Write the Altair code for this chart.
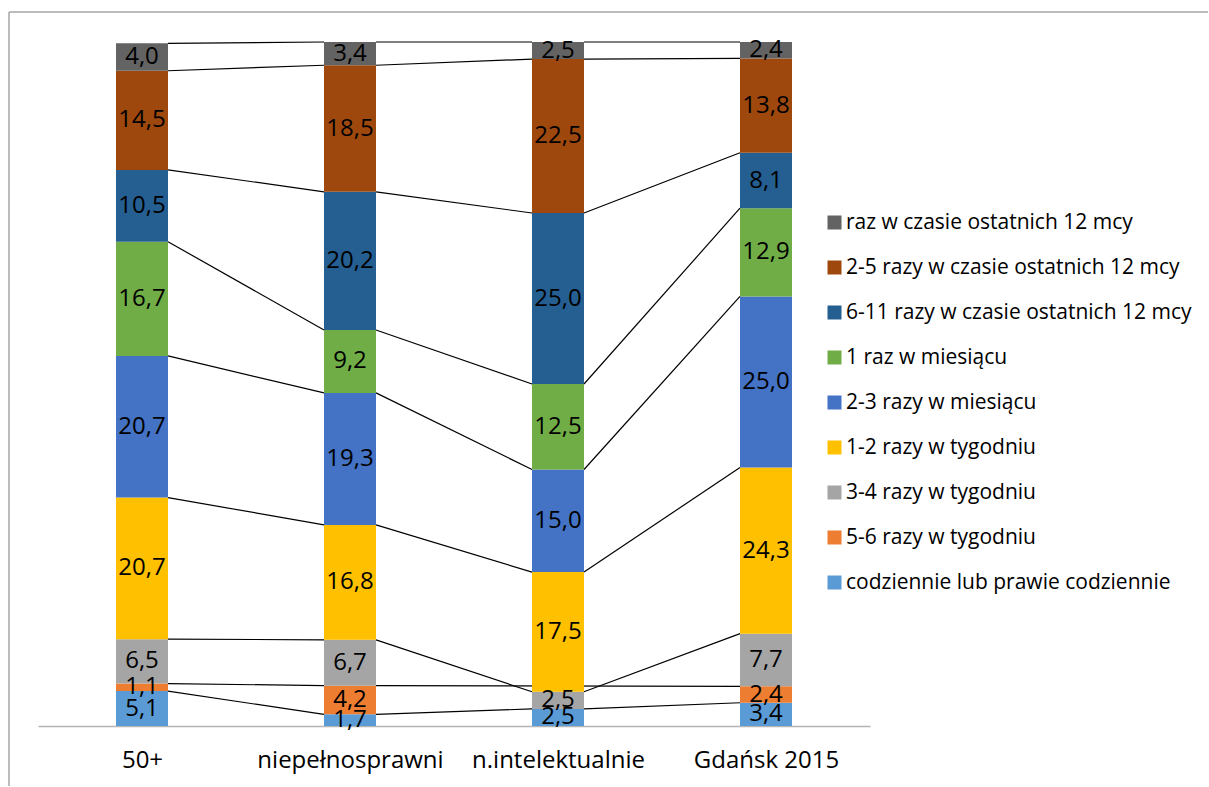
import json
import altair as alt
import pandas as pd

# Groups shown on the x axis
categories = ["50+", "niepełnosprawni", "n.intelektualnie", "Gdańsk 2015"]

# Answer categories, listed from the bottom of each stack to the top
series = [
    "codziennie lub prawie codziennie",
    "5-6 razy w tygodniu",
    "3-4 razy w tygodniu",
    "1-2 razy w tygodniu",
    "2-3 razy w miesiącu",
    "1 raz w miesiącu",
    "6-11 razy w czasie ostatnich 12 mcy",
    "2-5 razy w czasie ostatnich 12 mcy",
    "raz w czasie ostatnich 12 mcy",
]
colors = ["#5B9BD5", "#ED7D31", "#A5A5A5", "#FFC000", "#4472C4",
          "#70AD47", "#255E91", "#9E480E", "#636363"]

# Percentages per group (None = no answer recorded)
codziennie = [5.1, 1.7, 2.5, 3.4]
tyg_5_6 = [1.1, 4.2, None, 2.4]
tyg_3_4 = [6.5, 6.7, 2.5, 7.7]
tyg_1_2 = [20.7, 16.8, 17.5, 24.3]
mies_2_3 = [20.7, 19.3, 15.0, 25.0]
mies_1 = [16.7, 9.2, 12.5, 12.9]
rok_6_11 = [10.5, 20.2, 25.0, 8.1]
rok_2_5 = [14.5, 18.5, 22.5, 13.8]
rok_1 = [4.0, 3.4, 2.5, 2.4]

values = [codziennie, tyg_5_6, tyg_3_4, tyg_1_2, mies_2_3,
          mies_1, rok_6_11, rok_2_5, rok_1]

BAR_HALF = 0.125  # half bar width in category units

# Stack segments
seg_rows = []
tops = {s: [] for s in series}
for i, cat in enumerate(categories):
    cum = 0.0
    for s, vals in zip(series, values):
        v = vals[i]
        if v is None:
            continue
        seg_rows.append({
            "kategoria": cat,
            "seria": s,
            "x0": i + 0.5 - BAR_HALF,
            "x1": i + 0.5 + BAR_HALF,
            "xc": i + 0.5,
            "y0": cum,
            "y1": cum + v,
            "ym": cum + v / 2,
            "etykieta": f"{v:.1f}".replace(".", ","),
        })
        cum += v
        tops[s].append((i, cum))
segments = pd.DataFrame(seg_rows)

# Series lines joining the top of each segment to the next bar
line_rows = []
for s in series:
    pts = tops[s]
    for (i, ya), (j, yb) in zip(pts[:-1], pts[1:]):
        line_rows.append({"seria": s,
                          "xa": i + 0.5 + BAR_HALF, "xb": j + 0.5 - BAR_HALF,
                          "ya": ya, "yb": yb})
lines = pd.DataFrame(line_rows)

label_expr = f"{json.dumps(categories, ensure_ascii=False)}[floor(datum.value)]"

x_scale = alt.Scale(domain=[0, len(categories)], nice=False, zero=False)
y_scale = alt.Scale(domain=[0, 100], nice=False)

x_axis = alt.Axis(values=[i + 0.5 for i in range(len(categories))],
                  labelExpr=label_expr, ticks=False, grid=False,
                  domainColor="#B4B4B4", domainWidth=1.5,
                  labelFontSize=24, labelColor="#000000", labelLimit=400,
                  labelFont="Open Sans", labelPadding=22, title=None)

connectors = alt.Chart(lines).mark_rule(color="#000000", strokeWidth=1.2).encode(
    x=alt.X("xa:Q", scale=x_scale, axis=x_axis),
    x2="xb:Q",
    y=alt.Y("ya:Q", scale=y_scale, axis=None),
    y2="yb:Q",
)

bars = alt.Chart(segments).mark_bar(strokeWidth=0).encode(
    x=alt.X("x0:Q", scale=x_scale, axis=x_axis),
    x2="x1:Q",
    y=alt.Y("y0:Q", scale=y_scale, axis=None),
    y2="y1:Q",
    color=alt.Color(
        "seria:N",
        scale=alt.Scale(domain=series[::-1], range=colors[::-1]),
        legend=alt.Legend(
            title=None, orient="none", legendX=786, legendY=170,
            symbolType="square", symbolSize=196, symbolStrokeWidth=0,
            labelFontSize=21, labelFont="Open Sans", labelColor="#000000",
            labelOffset=1, rowPadding=23, labelLimit=400,
        ),
    ),
)

labels = alt.Chart(segments).mark_text(
    font="Open Sans", fontSize=24, color="#000000", baseline="middle", align="center"
).encode(
    x=alt.X("xc:Q", scale=x_scale),
    y=alt.Y("ym:Q", scale=y_scale),
    text="etykieta:N",
)

# Outer frame of the chart area (left and top edges)
frame_df = pd.DataFrame({"k": [0]})
frame_left = alt.Chart(frame_df).mark_rule(color="#A6A6A6", strokeWidth=1.5).encode(
    x=alt.value(-29), y=alt.value(-30), y2=alt.value(760)
)
frame_top = alt.Chart(frame_df).mark_rule(color="#A6A6A6", strokeWidth=1.5).encode(
    x=alt.value(-29), x2=alt.value(1200), y=alt.value(-30)
)

chart = alt.layer(frame_left, frame_top, connectors, bars, labels).properties(
    width=832, height=684,
    padding={"left": 38, "top": 42, "right": 338, "bottom": 60},
    autosize=alt.AutoSizeParams(type="none"),
).configure(font="Open Sans", view=alt.ViewConfig(stroke=None))

chart.save("out.html", embed_options={"renderer": "svg", "actions": False})
